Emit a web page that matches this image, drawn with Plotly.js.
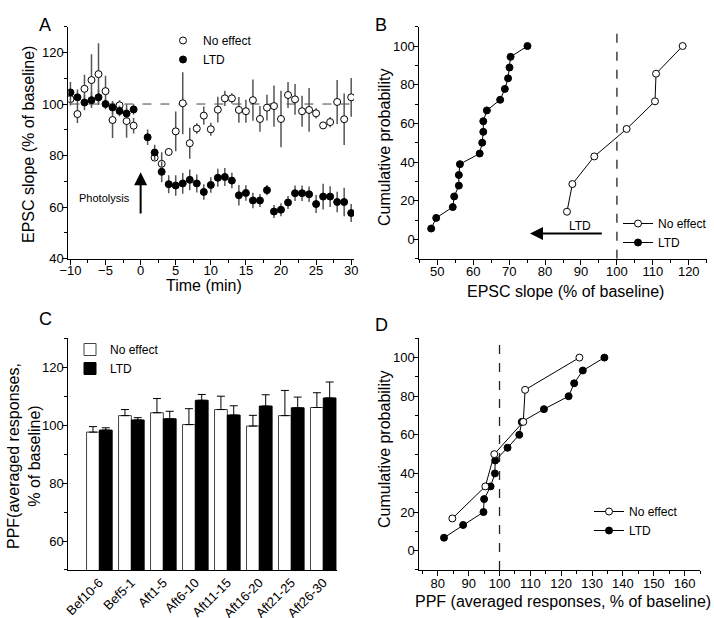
<!DOCTYPE html>
<html>
<head>
<meta charset="utf-8">
<script src="https://cdn.plot.ly/plotly-3.0.1.min.js"></script>
<style>
  html, body { margin: 0; padding: 0; background: #fff; }
  #chart { width: 714px; height: 618px; }
</style>
</head>
<body>
<div id="chart"></div>
<script>
// Panel A: EPSC slope time course
var timeNoEffect = [-10, -9, -8, -7, -6, -5, -4, -3, -2, -1,
    2, 3, 4, 5, 6, 7, 8, 9, 10, 11, 12, 13, 14, 15, 16, 17, 18, 19, 20,
    21, 22, 23, 24, 25, 26, 27, 28, 29, 30];
var slopeNoEffect = [101.9, 96.1, 105.9, 109.3, 111.6, 105.0, 93.8, 99.5, 93.4, 91.6,
    79.2, 76.8, 81.4, 89.4, 100.3, 84.8, 90.5, 95.5, 90.2, 97.8, 102.2, 102.2, 97.7, 97.2,
    101.5, 94.2, 98.6, 99.2, 94.2, 103.5, 101.8, 97.2, 97.7, 96.4, 91.7, 93.0, 100.8, 94.1, 102.6];
var errNoEffect = [2.5, 3.5, 5.5, 10, 12, 6, 7, 2, 6.5, 3,
    1.3, 4.5, 1.5, 7.7, 12, 6, 2, 3.5, 2.5, 5, 3, 2, 5, 4.5,
    8, 5, 5, 8, 11, 5, 6, 6, 8.5, 2, 1.3, 2, 8.5, 10, 7.5];

var timeLTD = [-10, -9, -8, -7, -6, -5, -4, -3, -2, -1,
    1, 2, 3, 4, 5, 6, 7, 8, 9, 10, 11, 12, 13, 14, 15, 16, 17, 18, 19, 20,
    21, 22, 23, 24, 25, 26, 27, 28, 29, 30];
var slopeLTD = [104.5, 102.6, 100.6, 101.5, 102.6, 100.0, 98.7, 97.3, 96.3, 97.9,
    87.1, 81.2, 73.7, 68.9, 68.4, 69.2, 70.6, 69.2, 65.9, 68.6,
    71.4, 71.7, 70.3, 64.6, 65.5, 62.6, 62.6, 66.6, 58.3, 59.0,
    61.8, 65.4, 65.4, 65.0, 61.2, 64.1, 64.1, 62.0, 62.0, 57.7];
var errLTD = [4, 3, 3, 3, 3, 2, 2.5, 2, 2, 2,
    3, 3, 4, 3.5, 4, 4, 4, 3.5, 3, 3,
    3.5, 3.5, 3, 4, 3, 3, 2.5, 2, 2.5, 2.5,
    2.5, 3, 3, 3, 3.5, 5, 4, 4, 5.5, 3.5];

// Panel B: cumulative EPSC slope
var cumSlopeNoEffect = [86.1, 87.6, 93.7, 102.7, 110.6, 110.9, 118.3];
var cumProbNoEffect = [14.3, 28.6, 42.9, 57.1, 71.4, 85.7, 100];
var cumSlopeLTD = [48.3, 49.7, 54.3, 54.7, 56.0, 56.0, 56.3, 61.8, 62.5, 62.8, 62.8,
    63.8, 67.5, 68.8, 69.7, 70.1, 70.4, 75.1];
var cumProbLTD = [5.6, 11.1, 16.7, 22.2, 27.8, 33.3, 38.9, 44.4, 50.0, 55.6, 61.1,
    66.7, 72.2, 77.8, 83.3, 88.9, 94.4, 100];

// Panel C: PPF bars
var ppfBins = ['Bef10-6', 'Bef5-1', 'Aft1-5', 'Aft6-10', 'Aft11-15', 'Aft16-20', 'Aft21-25', 'Aft26-30'];
var ppfNoEffect = [97.6, 103.3, 104.3, 100.2, 105.4, 99.7, 103.3, 106.1];
var ppfNoEffectErr = [1.9, 2.1, 4.9, 5.5, 4.6, 3.7, 8.7, 5.1];
var ppfLTD = [98.3, 101.8, 102.2, 108.6, 103.5, 106.6, 106.0, 109.4];
var ppfLTDErr = [0.8, 0.8, 2.6, 2.0, 3.2, 3.9, 3.7, 5.5];
var noErrBelow = [0, 0, 0, 0, 0, 0, 0, 0];

// Panel D: cumulative PPF
var cumPpfNoEffect = [84.7, 95.4, 98.3, 107.7, 108.3, 125.9];
var cumPpfProbNoEffect = [16.7, 33.3, 50, 66.7, 83.3, 100];
var cumPpfLTD = [82.0, 88.2, 94.8, 95.0, 97.1, 98.5, 98.6, 102.6, 106.4, 107.2,
    114.4, 122.4, 124.2, 127.0, 134.0];
var cumPpfProbLTD = [6.7, 13.3, 20, 26.7, 33.3, 40, 46.7, 53.3, 60, 66.7,
    73.3, 80, 86.7, 93.3, 100];

var FONT = 'Liberation Sans, Arial, sans-serif';
var openMarker = {symbol: 'circle', size: 7, color: '#fff', line: {color: '#000', width: 1}};
var fillMarker = {symbol: 'circle', size: 7, color: '#000', line: {color: '#000', width: 1}};

var data = [
    {x: timeNoEffect, y: slopeNoEffect, name: 'No effect', type: 'scatter', mode: 'markers',
     marker: openMarker, xaxis: 'x', yaxis: 'y', legend: 'legend',
     error_y: {type: 'data', array: errNoEffect, color: '#555', thickness: 1.5, width: 0}},
    {x: timeLTD, y: slopeLTD, name: 'LTD', type: 'scatter', mode: 'markers',
     marker: fillMarker, xaxis: 'x', yaxis: 'y', legend: 'legend',
     error_y: {type: 'data', array: errLTD, color: '#555', thickness: 1.5, width: 0}},

    {x: cumSlopeNoEffect, y: cumProbNoEffect, name: 'No effect', type: 'scatter', mode: 'lines+markers',
     line: {color: '#000', width: 1}, marker: openMarker, xaxis: 'x2', yaxis: 'y2', legend: 'legend2'},
    {x: cumSlopeLTD, y: cumProbLTD, name: 'LTD', type: 'scatter', mode: 'lines+markers',
     line: {color: '#000', width: 1}, marker: fillMarker, xaxis: 'x2', yaxis: 'y2', legend: 'legend2'},

    {x: ppfBins, y: ppfNoEffect, name: 'No effect', type: 'bar',
     marker: {color: '#fff', line: {color: '#444', width: 1}}, xaxis: 'x3', yaxis: 'y3', legend: 'legend3',
     error_y: {type: 'data', symmetric: false, array: ppfNoEffectErr, arrayminus: noErrBelow,
               color: '#000', thickness: 1, width: 4}},
    {x: ppfBins, y: ppfLTD, name: 'LTD', type: 'bar',
     marker: {color: '#000', line: {color: '#000', width: 1}}, xaxis: 'x3', yaxis: 'y3', legend: 'legend3',
     error_y: {type: 'data', symmetric: false, array: ppfLTDErr, arrayminus: noErrBelow,
               color: '#000', thickness: 1, width: 4}},

    {x: cumPpfLTD, y: cumPpfProbLTD, name: 'LTD', type: 'scatter', mode: 'lines+markers',
     line: {color: '#000', width: 1}, marker: fillMarker, xaxis: 'x4', yaxis: 'y4', legend: 'legend4'},
    {x: cumPpfNoEffect, y: cumPpfProbNoEffect, name: 'No effect', type: 'scatter', mode: 'lines+markers',
     line: {color: '#000', width: 1}, marker: openMarker, xaxis: 'x4', yaxis: 'y4', legend: 'legend4'}
];

function axis(extra) {
    var base = {
        showline: true, linecolor: '#000', linewidth: 1, mirror: false,
        showgrid: false, zeroline: false,
        ticks: 'outside', ticklen: 5, tickwidth: 1, tickcolor: '#000',
        tickfont: {family: FONT, size: 13, color: '#000'},
        ticklabelstandoff: -3,
        fixedrange: true
    };
    for (var k in extra) base[k] = extra[k];
    return base;
}
function minorTicks(step, start) {
    return {ticks: 'outside', ticklen: 3, tickwidth: 1, tickcolor: '#000', dtick: step, tick0: start, showgrid: false};
}
var legendFont = {family: FONT, size: 12, color: '#000'};

function label(text, x, y, angle) {
    return {text: text, xref: 'paper', yref: 'paper', x: x / 714, y: 1 - y / 618,
        xanchor: 'center', yanchor: 'middle', showarrow: false, textangle: angle || 0,
        font: {family: FONT, size: 16, color: '#000'}};
}

var layout = {
    width: 714, height: 618, autosize: false,
    margin: {l: 0, r: 0, t: 0, b: 0},
    paper_bgcolor: '#fff', plot_bgcolor: '#fff',
    bargap: 0.2, bargroupgap: 0,
    font: {family: FONT, color: '#000'},

    xaxis: axis({domain: [0.0957, 0.4958], anchor: 'y', range: [-10.3, 30.4], tick0: -10, dtick: 5,
        minor: minorTicks(2.5, -10), ticklabelstandoff: -5}),
    yaxis: axis({domain: [0.5814, 0.9568], anchor: 'x', range: [40, 130], tick0: 40, dtick: 20,
        minor: minorTicks(10, 40), ticklabelstandoff: -4}),

    xaxis2: axis({domain: [0.5873, 0.9898], anchor: 'y2', range: [45, 125], tick0: 50, dtick: 10,
        minor: minorTicks(5, 45), ticklabelstandoff: -4}),
    yaxis2: axis({domain: [0.5814, 0.9568], anchor: 'x2', range: [-10, 110], tick0: 0, dtick: 20,
        minor: minorTicks(10, 0), ticklabelstandoff: -4}),

    xaxis3: axis({domain: [0.0957, 0.4716], anchor: 'y3', type: 'category', range: [-0.97, 7.42],
        ticks: '', tickangle: -45, tickfont: {family: FONT, size: 13, color: '#000'},
        ticklabelstandoff: -1}),
    yaxis3: axis({domain: [0.0777, 0.4526], anchor: 'x3', range: [50, 130], tick0: 0, dtick: 20,
        minor: minorTicks(10, 0), ticklabelstandoff: -4}),

    xaxis4: axis({domain: [0.5873, 0.9804], anchor: 'y4', range: [74, 165], tick0: 80, dtick: 10,
        minor: minorTicks(5, 75), ticklabelstandoff: -4}),
    yaxis4: axis({domain: [0.0777, 0.4526], anchor: 'x4', range: [-10, 110], tick0: 0, dtick: 20,
        minor: minorTicks(10, 0), ticklabelstandoff: -4}),

    legend: {x: 163 / 714, y: 1 - 26 / 618, xanchor: 'left', yanchor: 'top',
        bgcolor: 'rgba(0,0,0,0)', borderwidth: 0, font: legendFont},
    legend2: {x: 618 / 714, y: 1 - 209 / 618, xanchor: 'left', yanchor: 'top',
        bgcolor: 'rgba(0,0,0,0)', borderwidth: 0, font: legendFont},
    legend3: {x: 70 / 714, y: 1 - 335 / 618, xanchor: 'left', yanchor: 'top',
        bgcolor: 'rgba(0,0,0,0)', borderwidth: 0, font: legendFont},
    legend4: {x: 589 / 714, y: 1 - 497 / 618, xanchor: 'left', yanchor: 'top', traceorder: 'reversed',
        bgcolor: 'rgba(0,0,0,0)', borderwidth: 0, font: legendFont},

    shapes: [
        {type: 'line', xref: 'x', yref: 'y', x0: -10, x1: 30.4, y0: 100, y1: 100,
         line: {color: '#444', width: 1, dash: 'dash'}, layer: 'below'},
        {type: 'line', xref: 'x2', yref: 'y2', x0: 100, x1: 100, y0: -10, y1: 110,
         line: {color: '#222', width: 1.3, dash: 'dash'}, layer: 'below'},
        {type: 'line', xref: 'x4', yref: 'y4', x0: 100, x1: 100, y0: -10, y1: 110,
         line: {color: '#222', width: 1.3, dash: 'dash'}, layer: 'below'}
    ],

    annotations: [
        // panel letters
        {text: 'A', xref: 'paper', yref: 'paper', x: 37 / 714, y: 1 - 13 / 618, showarrow: false,
         font: {family: FONT, size: 18}},
        {text: 'B', xref: 'paper', yref: 'paper', x: 381 / 714, y: 1 - 13 / 618, showarrow: false,
         font: {family: FONT, size: 18}},
        {text: 'C', xref: 'paper', yref: 'paper', x: 37 / 714, y: 1 - 319 / 618, showarrow: false,
         font: {family: FONT, size: 18}},
        {text: 'D', xref: 'paper', yref: 'paper', x: 381 / 714, y: 1 - 325 / 618, showarrow: false,
         font: {family: FONT, size: 18}},
        // axis titles
        label('Time (min)', 204, 286),
        label('EPSC slope (% of baseline)', 28, 145, -90),
        label('EPSC slope (% of baseline)', 565, 292),
        label('Cumulative probability', 384, 148, -90),
        label('PPF(averaged responses,<br>% of baseline)', 24, 456, -90),
        label('PPF (averaged responses, % of baseline)', 563, 601),
        label('Cumulative probability', 384, 450, -90),
        // panel A photolysis marker
        {text: 'Photolysis', xref: 'x', yref: 'y', x: -5.1, y: 63.7, showarrow: false,
         font: {family: FONT, size: 11}},
        {text: '', xref: 'x', yref: 'y', axref: 'x', ayref: 'y', x: 0, y: 73.5, ax: 0, ay: 57,
         showarrow: true, arrowhead: 2, arrowsize: 1.3, arrowwidth: 2, arrowcolor: '#000'},
        // panel B LTD arrow
        {text: 'LTD', xref: 'x2', yref: 'y2', x: 89.7, y: 7, showarrow: false,
         font: {family: FONT, size: 12}},
        {text: '', xref: 'x2', yref: 'y2', axref: 'x2', ayref: 'y2', x: 75.8, y: 3, ax: 96.2, ay: 3,
         showarrow: true, arrowhead: 2, arrowsize: 1.3, arrowwidth: 2, arrowcolor: '#000'}
    ]
};

Plotly.newPlot('chart', data, layout, {staticPlot: true, displayModeBar: false});
</script>
</body>
</html>
